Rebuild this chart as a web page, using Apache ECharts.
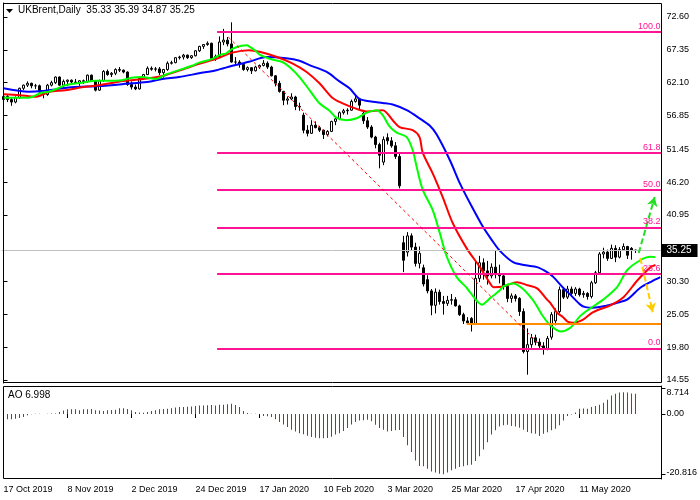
<!DOCTYPE html>
<html><head><meta charset="utf-8">
<script src="https://cdn.jsdelivr.net/npm/echarts@6/dist/echarts.min.js"></script>
<style>html,body{margin:0;padding:0;background:#fff}#c{width:700px;height:500px}</style>
</head><body><div id="c"></div>
<script>
const dates = [
'17 Oct 2019','18 Oct 2019','21 Oct 2019','22 Oct 2019','23 Oct 2019','24 Oct 2019','25 Oct 2019','28 Oct 2019','29 Oct 2019','30 Oct 2019','31 Oct 2019',
'1 Nov 2019','4 Nov 2019','5 Nov 2019','6 Nov 2019','7 Nov 2019','8 Nov 2019','11 Nov 2019','12 Nov 2019','13 Nov 2019','14 Nov 2019','15 Nov 2019','18 Nov 2019','19 Nov 2019','20 Nov 2019','21 Nov 2019','22 Nov 2019','25 Nov 2019','26 Nov 2019','27 Nov 2019','28 Nov 2019','29 Nov 2019',
'2 Dec 2019','3 Dec 2019','4 Dec 2019','5 Dec 2019','6 Dec 2019','9 Dec 2019','10 Dec 2019','11 Dec 2019','12 Dec 2019','13 Dec 2019','16 Dec 2019','17 Dec 2019','18 Dec 2019','19 Dec 2019','20 Dec 2019','23 Dec 2019','24 Dec 2019','26 Dec 2019','27 Dec 2019','30 Dec 2019','31 Dec 2019',
'2 Jan 2020','3 Jan 2020','6 Jan 2020','7 Jan 2020','8 Jan 2020','9 Jan 2020','10 Jan 2020','13 Jan 2020','14 Jan 2020','15 Jan 2020','16 Jan 2020','17 Jan 2020','20 Jan 2020','21 Jan 2020','22 Jan 2020','23 Jan 2020','24 Jan 2020','27 Jan 2020','28 Jan 2020','29 Jan 2020','30 Jan 2020','31 Jan 2020',
'3 Feb 2020','4 Feb 2020','5 Feb 2020','6 Feb 2020','7 Feb 2020','10 Feb 2020','11 Feb 2020','12 Feb 2020','13 Feb 2020','14 Feb 2020','17 Feb 2020','18 Feb 2020','19 Feb 2020','20 Feb 2020','21 Feb 2020','24 Feb 2020','25 Feb 2020','26 Feb 2020','27 Feb 2020','28 Feb 2020',
'2 Mar 2020','3 Mar 2020','4 Mar 2020','5 Mar 2020','6 Mar 2020','9 Mar 2020','10 Mar 2020','11 Mar 2020','12 Mar 2020','13 Mar 2020','16 Mar 2020','17 Mar 2020','18 Mar 2020','19 Mar 2020','20 Mar 2020','23 Mar 2020','24 Mar 2020','25 Mar 2020','26 Mar 2020','27 Mar 2020','30 Mar 2020','31 Mar 2020',
'1 Apr 2020','2 Apr 2020','3 Apr 2020','6 Apr 2020','7 Apr 2020','8 Apr 2020','9 Apr 2020','13 Apr 2020','14 Apr 2020','15 Apr 2020','16 Apr 2020','17 Apr 2020','20 Apr 2020','21 Apr 2020','22 Apr 2020','23 Apr 2020','24 Apr 2020','27 Apr 2020','28 Apr 2020','29 Apr 2020','30 Apr 2020',
'1 May 2020','4 May 2020','5 May 2020','6 May 2020','7 May 2020','8 May 2020','11 May 2020','12 May 2020','13 May 2020','14 May 2020','15 May 2020','18 May 2020','19 May 2020','20 May 2020','21 May 2020','22 May 2020','26 May 2020','27 May 2020','28 May 2020','29 May 2020',
'1 Jun 2020'];
const emptySlots = [' 1',' 2',' 3',' 4',' 5',' 6'];

const opens = [59.4,59.9,59.4,59.0,59.7,61.2,61.7,62.0,61.6,61.6,60.6,60.2,61.7,62.1,63.0,61.7,62.3,62.5,62.2,62.1,62.4,62.3,63.3,62.4,60.9,62.4,63.9,63.4,63.6,64.2,64.1,63.8,61.8,61.4,61.1,62.8,63.4,64.4,64.25,64.3,63.7,64.2,65.2,65.3,66.1,66.2,66.5,66.1,66.4,67.2,67.9,68.2,68.4,66.0,66.3,68.6,68.9,68.3,65.4,65.4,65.0,64.2,64.5,64.0,64.6,64.85,65.2,64.6,63.2,62.0,60.7,59.3,59.5,59.8,58.3,56.9,54.5,54.0,55.3,54.9,54.5,53.8,54.3,55.9,56.3,57.3,57.6,57.7,59.1,59.5,57.2,56.0,55.0,53.4,52.2,49.4,53.3,52.8,52.0,50.3,36.5,35.0,37.6,35.8,33.2,32.5,30.6,28.8,26.5,28.6,27.1,26.8,27.3,27.4,26.4,25.0,24.0,24.4,23.6,30.8,33.3,32.0,31.2,32.6,31.5,31.2,29.5,27.6,28.0,27.6,25.5,19.1,20.2,21.3,20.6,20.0,19.6,21.4,24.0,25.5,29.0,27.8,29.1,28.4,29.1,28.2,28.4,27.9,30.1,31.7,34.7,35.0,34.0,35.6,34.2,35.4,35.9,35.6,35.33];
const highs = [60.0,60.1,59.6,59.9,61.3,61.8,62.3,62.1,61.9,61.8,60.9,61.9,62.4,63.1,63.1,62.6,62.6,62.6,62.7,62.5,62.6,63.4,63.4,62.5,62.6,64.1,64.2,63.8,64.4,64.6,64.2,63.9,62.3,61.8,63.0,63.5,64.7,64.7,64.6,64.6,64.3,65.5,65.6,66.2,66.4,66.7,66.6,66.5,67.3,68.0,68.2,68.7,68.5,66.6,69.5,70.7,69.4,71.75,66.2,65.7,65.0,64.7,64.6,64.8,65.0,65.7,65.5,64.8,63.3,62.4,60.8,59.9,60.4,60.0,58.9,57.3,55.3,56.1,55.9,55.2,54.6,54.5,56.0,56.6,57.5,57.9,58.0,59.4,60.0,59.6,57.5,56.6,55.3,53.6,52.5,53.5,54.0,53.4,52.6,50.9,37.6,38.2,38.0,36.5,35.9,33.0,31.3,29.1,29.2,29.0,28.0,28.0,28.3,27.8,26.6,25.3,24.6,24.6,33.6,34.4,34.0,33.6,33.2,35.2,33.0,31.4,29.8,28.4,28.3,27.8,26.0,22.8,21.9,21.8,21.2,20.6,21.6,25.4,26.0,29.5,29.4,29.6,29.5,29.4,29.3,28.8,28.6,30.4,32.0,35.0,35.7,35.4,36.2,36.1,35.8,36.4,36.0,35.8,35.39];
const lows = [58.9,59.0,58.4,58.8,59.5,60.9,61.4,61.2,61.1,60.4,59.6,60.0,61.5,61.9,61.6,61.3,61.6,61.8,61.9,61.6,61.9,62.1,62.3,60.7,60.8,62.2,63.2,63.0,63.3,63.8,63.6,61.6,61.0,60.9,61.0,62.6,63.3,64.0,63.9,63.3,62.9,64.0,65.0,65.2,65.8,65.8,65.9,65.9,66.3,67.0,67.5,68.0,65.9,65.6,66.1,68.1,67.9,65.3,64.9,64.5,64.0,63.9,63.5,63.9,64.3,64.7,64.3,63.1,61.5,60.5,58.5,58.6,59.3,57.7,57.6,54.0,53.5,53.9,54.8,54.2,53.1,53.5,54.2,55.3,56.1,57.0,57.0,57.6,58.9,57.8,55.5,54.7,53.2,51.6,48.4,48.9,52.2,51.7,49.9,45.2,31.8,34.3,35.3,32.7,32.4,29.5,28.4,24.9,25.2,26.6,25.0,26.4,26.6,26.3,24.8,23.5,23.4,22.3,23.4,30.2,30.6,29.8,30.8,30.8,30.0,29.0,27.0,26.9,27.1,24.8,18.8,15.4,19.7,20.1,19.5,18.6,19.3,21.0,23.3,25.2,27.5,27.5,28.0,28.0,27.9,27.7,27.4,27.6,29.9,31.5,34.0,33.6,33.9,33.4,34.0,35.2,33.9,33.8,34.87];
const closes = [59.9,59.4,59.0,59.7,61.2,61.7,62.0,61.6,61.6,60.6,60.2,61.7,62.1,63.0,61.7,62.3,62.5,62.2,62.1,62.4,62.3,63.3,62.4,60.9,62.4,63.9,63.4,63.6,64.2,64.1,63.8,61.8,61.4,61.1,62.8,63.4,64.4,64.25,64.3,63.7,64.2,65.2,65.3,66.1,66.2,66.5,66.1,66.4,67.2,67.9,68.2,68.4,66.0,66.3,68.6,68.9,68.3,65.4,65.4,65.0,64.2,64.5,64.0,64.6,64.85,65.2,64.6,63.2,62.0,60.7,59.3,59.5,59.8,58.3,58.2,54.5,54.0,55.3,54.9,54.5,53.8,54.3,55.9,56.3,57.3,57.6,57.7,59.1,59.5,58.5,56.0,55.0,53.4,52.2,50.5,53.0,52.8,52.0,50.3,45.6,33.7,37.6,35.8,33.2,34.8,29.9,28.8,26.5,28.6,27.1,26.8,27.3,27.4,26.4,25.0,24.0,23.7,23.6,30.8,33.3,32.0,31.2,32.6,31.5,31.2,29.5,27.6,28.0,27.6,25.5,19.1,20.2,21.3,20.6,20.0,19.6,21.2,25.0,25.5,29.0,27.8,29.1,28.4,29.1,28.2,28.4,27.9,30.1,31.7,34.7,35.0,34.0,35.6,34.2,35.4,35.9,34.5,35.33,35.25];

// Alligator lines: [bar index, price]
const jawBlue = [[0,61.2],[6.3,60.65],[9.5,60.75],[17,61.35],[23.8,61.55],[32,62.0],[36.4,62.25],[39.7,62.7],[43.9,63.0],[48.9,63.6],[53.2,64.1],[57.2,64.8],[61.4,65.45],[65.7,66.2],[70.7,66.0],[74,65.6],[76.5,64.9],[80.7,63.85],[84,62.3],[86.5,61.2],[89,59.5],[92.3,59.05],[94.8,58.85],[97.3,58.6],[100.8,57.7],[104,56.4],[106.6,55.2],[108.3,53.8],[111.6,49.7],[114.1,46.0],[116.9,42.5],[119.9,39.0],[122,37.0],[124.1,35.2],[127.4,33.4],[130.5,32.9],[133.4,32.6],[135.9,31.8],[137.5,31.0],[139.9,29.3],[142,28.0],[144.2,26.6],[145.5,26.2],[147.4,26.1],[150.5,26.4],[153.4,26.9],[155.9,27.4],[159.2,29.3],[162,30.3],[164.2,31.0]];
const teethRed = [[0,60.25],[4,60.1],[8,59.85],[11.3,60.6],[15.5,60.9],[19.6,61.35],[23.8,61.7],[28.8,62.25],[32,62.5],[36.4,62.8],[40.5,63.3],[45.6,64.4],[48.9,65.1],[53.2,65.9],[57.2,66.9],[61.4,67.3],[64,67.05],[68.2,66.25],[72.2,65.2],[75.7,63.85],[79,62.0],[82.2,59.7],[84.8,58.8],[88.3,57.9],[90.8,57.5],[94.8,57.7],[97.3,56.1],[99,55.0],[102.3,54.5],[104,53.4],[104.8,50.9],[107.3,47.6],[109.8,43.8],[112.3,39.65],[115.8,35.6],[119.1,32.6],[121.6,30.05],[122.5,29.4],[124.9,29.5],[128.4,30.2],[131,29.7],[133.4,29.2],[135.9,27.4],[136.7,26.9],[138.4,25.3],[139.9,24.6],[141,23.9],[142.4,23.7],[143.4,23.8],[144.9,24.2],[147.4,25.4],[151.7,26.5],[155,27.8],[158.5,30.5],[161.8,32.6],[163,32.95]];
const lipsGreen = [[0,59.7],[6.3,59.7],[9.5,60.5],[11.3,60.65],[13.8,61.25],[15.5,61.7],[19.6,62.1],[23,62.4],[25.6,62.4],[29.6,62.5],[32,62.9],[34.6,63.0],[38.1,62.7],[40.6,63.4],[43.9,64.1],[47.1,64.8],[48.9,65.3],[52.2,65.9],[54,66.5],[55.7,66.8],[57.2,67.5],[59.5,68.0],[60.9,68.1],[61.4,67.9],[63,67.2],[64,66.6],[67.2,65.8],[69.7,65.4],[71.5,64.6],[74,63.0],[76.5,60.9],[79,58.8],[81.5,57.6],[83.2,56.5],[85.8,56.1],[88.3,56.4],[90.8,57.3],[93.3,57.7],[94.8,56.9],[96.5,55.1],[98.3,54.1],[100.8,53.4],[102.3,51.3],[103.3,48.6],[104.8,45.0],[107.3,41.7],[109.1,38.0],[110.8,34.3],[113.3,31.0],[115.8,29.3],[116.6,28.6],[119.6,26.6],[121.6,27.6],[124.1,28.9],[124.9,29.5],[127.4,30.0],[129.9,29.1],[132.4,27.3],[133.4,26.3],[134.9,24.7],[136.7,23.3],[139.2,22.3],[141.7,22.9],[144.2,24.8],[146.7,26.0],[149.9,27.4],[153.4,29.4],[155.9,32.1],[159.2,33.7],[161.7,34.25],[163,34.2]];

const aoValues = [-1.4,-1.8,-1.85,-1.6,-1.4,-1.0,-0.45,-0.05,0.1,0.12,0.02,0.1,0.15,0.2,0.7,1.25,1.6,1.65,1.6,1.3,1.6,1.65,1.7,1.3,1.25,1.0,1.3,1.35,1.5,1.95,2.0,1.7,1.3,0.7,0.55,0.45,0.7,1.0,1.3,1.6,1.7,1.8,2.0,2.2,2.4,2.45,2.5,2.6,2.8,2.9,2.95,3.0,3.1,2.9,3.15,3.2,3.4,3.5,3.1,2.4,1.0,0.35,0.1,0.05,-0.05,-0.7,-0.8,-1.0,-1.8,-2.8,-3.6,-4.5,-5.4,-6.0,-6.6,-7.0,-7.5,-7.9,-8.2,-8.4,-8.35,-8.3,-7.8,-7.1,-6.6,-5.9,-4.8,-3.6,-2.8,-2.2,-2.15,-1.95,-2.5,-3.7,-4.8,-5.4,-6.0,-5.9,-5.6,-5.5,-7.9,-10.8,-13.1,-16.0,-17.9,-18.0,-18.9,-19.8,-20.2,-20.6,-20.8,-20.2,-19.4,-18.9,-18.3,-18.0,-17.7,-17.5,-16.2,-14.6,-12.2,-9.7,-7.1,-5.6,-4.3,-3.9,-3.7,-4.1,-4.3,-4.7,-5.4,-6.2,-6.6,-6.8,-7.6,-6.8,-6.3,-5.6,-5.1,-3.9,-2.2,-0.7,-0.2,0.5,1.8,1.9,1.85,2.4,2.8,3.2,3.9,4.9,6.4,7.0,7.4,7.5,7.4,7.1,7.0];

const priceTicks = [14.55,19.80,25.05,30.30,35.25,40.95,46.20,51.45,56.85,62.10,67.35,72.60];
const aoTicks = [-20.816,0,8.714];
const fibLabels = ['100.0','61.8','50.0','38.2','23.6','0.0'];
const fibPrices = [70.25,50.91,44.94,38.96,31.57,19.62];
const fibStartBar = 53.4;
const supportPrice = 23.47, supportStartBar = 115.8;
const trendFrom = [56.2,69.4], trendTo = [134.9,19.66];
const upArrow = [[158.8,34.86],[162.8,43.8]];
const downArrow = [[159.2,34.06],[162.3,25.4]];
const bidPrice = 35.25;

const FONT = 'Liberation Sans, Arial, sans-serif';
const nAll = dates.length + emptySlots.length;
const rightEdge = nAll - 0.5;
const cats = dates.concat(emptySlots);
const candleData = opens.map((o,i)=>[o, closes[i], lows[i], highs[i]]);
const aoData = aoValues.map((v,i)=>({value:v, itemStyle:{color: (i===0 || v>aoValues[i-1]) ? '#008000' : '#ff0000'}}));
const mainTickSet = priceTicks.filter(v=>v!==bidPrice);

const pink = '#ff1493';
const overlay = [];
fibPrices.forEach((p,k)=>overlay.push([
  {coord:[fibStartBar,p], symbol:'none', lineStyle:{color:pink,width:2,type:'solid'},
   label:{show:true, formatter:fibLabels[k], position:'insideEndTop', color:pink, fontSize:9, fontFamily:FONT, distance:1}},
  {coord:[rightEdge,p], symbol:'none'}]));
overlay.push([{coord:[supportStartBar,supportPrice], symbol:'none', lineStyle:{color:'#ff8c00',width:2,type:'solid'}},{coord:[rightEdge,supportPrice],symbol:'none'}]);
overlay.push([{coord:trendFrom, symbol:'none', lineStyle:{color:'#ff0000',width:1,type:[3,3]}},{coord:trendTo,symbol:'none'}]);
overlay.push([{coord:upArrow[0], symbol:'none', lineStyle:{color:'#22dd22',width:2,type:[6,3]}},{coord:upArrow[1],symbol:'arrow',symbolSize:[8,9]}]);
overlay.push([{coord:downArrow[0], symbol:'none', lineStyle:{color:'#ffcc00',width:2,type:[6,3]}},{coord:downArrow[1],symbol:'arrow',symbolSize:[8,9]}]);

const GL = 1.5, GW = 660;
const chart = echarts.init(document.getElementById('c'), null, {renderer:'canvas'});
chart.setOption({
  animation:false,
  backgroundColor:'#fff',
  textStyle:{fontFamily:FONT},
  title:[
    {text:'UKBrent,Daily  35.33 35.39 34.87 35.25', left:18, top:5, padding:0, textStyle:{fontSize:10, fontWeight:'normal', color:'#000', fontFamily:FONT}},
    {text:'AO 6.998', left:8, top:390, padding:0, textStyle:{fontSize:10, fontWeight:'normal', color:'#000', fontFamily:FONT}}
  ],
  graphic:[
    {type:'rect', z:50, silent:true, shape:{x:3.5, y:3.5, width:658, height:379}, style:{fill:null, stroke:'#000', lineWidth:1}},
    {type:'rect', z:50, silent:true, shape:{x:3.5, y:386.5, width:658, height:92}, style:{fill:null, stroke:'#000', lineWidth:1}},
    {type:'polygon', z:50, silent:true, shape:{points:[[6,9],[13,9],[9.5,13]]}, style:{fill:'#000'}}
  ],
  grid:[
    {left:GL, top:3, width:GW, height:380, show:false},
    {left:GL, top:386, width:GW, height:93, show:false}
  ],
  xAxis:[
    {type:'category', gridIndex:0, data:cats, boundaryGap:true, axisLine:{show:false}, axisTick:{show:false}, axisLabel:{show:false}, splitLine:{show:false}},
    {type:'category', gridIndex:1, data:cats, boundaryGap:true, axisLine:{show:false},
     axisTick:{show:true, alignWithLabel:true, length:4, interval:(i)=>i%16===0 && i<=144, lineStyle:{color:'#000'}},
     axisLabel:{show:true, interval:(i)=>i%16===0 && i<=144, align:'left', margin:6, fontSize:9, color:'#000', fontFamily:FONT}, splitLine:{show:false}},
    {type:'value', gridIndex:0, min:-0.5, max:rightEdge, show:false}
  ],
  yAxis:[
    {type:'value', gridIndex:0, position:'right', min:14.07, max:74.84,
     axisLine:{show:true, lineStyle:{color:'#000'}},
     axisTick:{show:true, length:4, customValues:mainTickSet, lineStyle:{color:'#000'}},
     axisLabel:{show:true, customValues:mainTickSet, formatter:(v)=>v.toFixed(2), margin:5, fontSize:9, color:'#000', fontFamily:FONT},
     splitLine:{show:false}},
    {type:'value', gridIndex:1, position:'right', min:-22.41, max:9.655,
     axisLine:{show:true, lineStyle:{color:'#000'}},
     axisTick:{show:true, length:4, customValues:aoTicks, lineStyle:{color:'#000'}},
     axisLabel:{show:true, customValues:aoTicks, margin:5, fontSize:9, color:'#000', fontFamily:FONT,
       formatter:(v)=> v===0 ? '0.00' : (v>0 ? '{t|'+v+'}' : '{b|'+v+'}'),
       rich:{t:{fontSize:9, fontFamily:FONT, color:'#000', padding:[8,0,0,0]}, b:{fontSize:9, fontFamily:FONT, color:'#000', padding:[0,0,3,0]}}},
     splitLine:{show:false}}
  ],
  series:[
    {type:'candlestick', xAxisIndex:0, yAxisIndex:0, data:candleData, barWidth:3, z:2,
     itemStyle:{color:'#fff', color0:'#000', borderColor:'#000', borderColor0:'#000', borderWidth:1},
     markLine:{silent:true, symbol:['none','none'], animation:false,
       data:[{yAxis:bidPrice, lineStyle:{color:'#c0c0c0', width:1, type:'solid'},
         label:{show:true, position:'end', formatter:bidPrice.toFixed(2), color:'#fff', backgroundColor:'#000', padding:[2,6,1,5], fontSize:10, fontFamily:FONT, distance:0}}]}},
    {type:'line', xAxisIndex:2, yAxisIndex:0, data:[[0,60]], showSymbol:false, lineStyle:{opacity:0}, z:3,
     markLine:{silent:true, animation:false, symbol:['none','none'], label:{show:false}, data:overlay}},
    {type:'line', name:'jaw', xAxisIndex:2, yAxisIndex:0, data:jawBlue, showSymbol:false, smooth:0.3, lineStyle:{color:'#0000ff', width:2}, z:4},
    {type:'line', name:'teeth', xAxisIndex:2, yAxisIndex:0, data:teethRed, showSymbol:false, smooth:0.3, lineStyle:{color:'#ff0000', width:2}, z:4},
    {type:'line', name:'lips', xAxisIndex:2, yAxisIndex:0, data:lipsGreen, showSymbol:false, smooth:0.3, lineStyle:{color:'#00ff00', width:2}, z:4},
    {type:'bar', xAxisIndex:1, yAxisIndex:1, data:aoData, barWidth:1, z:2}
  ]
});
</script></body></html>
